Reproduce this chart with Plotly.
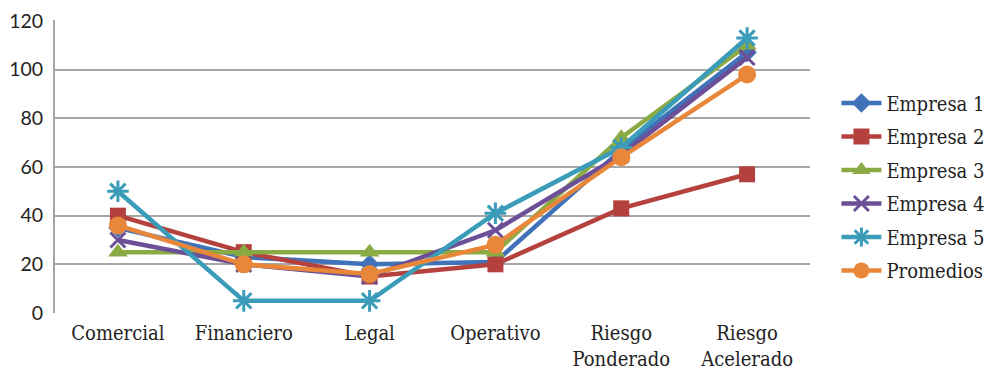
import plotly.graph_objects as go

categories = ["Comercial", "Financiero", "Legal", "Operativo", "Riesgo<br>Ponderado", "Riesgo<br>Acelerado"]
empresa1 = [35, 23, 20, 21, 67, 107]
empresa2 = [40, 25, 15, 20, 43, 57]
empresa3 = [25, 25, 25, 25, 72, 110]
empresa4 = [30, 20, 15, 34, 65, 105]
empresa5 = [50, 5, 5, 41, 68, 113]
promedios = [36, 20, 16, 28, 64, 98]
y_ticks = [0, 20, 40, 60, 80, 100, 120]

series = [
    ("Empresa 1", empresa1, "#3f72b8", "diamond", 15, 0),
    ("Empresa 2", empresa2, "#b5413e", "square", 16, 0),
    ("Empresa 3", empresa3, "#8aab44", "triangle-up", 17, 0),
    ("Empresa 4", empresa4, "#6c4f96", "x-thin", 15, 3),
    ("Empresa 5", empresa5, "#3a9cb8", "asterisk", 18, 3),
    ("Promedios", promedios, "#e8873a", "circle", 18, 0),
]

SERIF = "DejaVu Serif Condensed, DejaVu Serif"

fig = go.Figure()
for name, vals, color, sym, size, mlw in series:
    fig.add_trace(go.Scatter(
        x=categories, y=vals, name=name, mode="lines+markers",
        legendgroup=name,
        line=dict(color=color, width=4.5),
        marker=dict(symbol=sym, size=size, color=color,
                    line=dict(color=color, width=mlw)),
    ))

fig.update_layout(
    width=1000, height=375,
    margin=dict(l=47, r=198, t=12, b=70),
    plot_bgcolor="white", paper_bgcolor="white",
    showlegend=True,
    legend=dict(x=1.035, xanchor="left", y=0.43, yanchor="middle",
                font=dict(family=SERIF, size=20, color="#222"),
                itemwidth=40, tracegroupgap=4.5),
    xaxis=dict(type="category", showgrid=False, showline=False, ticks="",
               automargin=False, ticklabelstandoff=6,
               tickfont=dict(family=SERIF, size=20, color="#222"),
               range=[-0.5, 5.5]),
    yaxis=dict(range=[0, 120.4], tickvals=y_ticks, showgrid=True,
               automargin=False, ticklabeloverflow="allow",
               gridcolor="#a6a6a6", gridwidth=2, showline=True,
               linecolor="#a6a6a6", linewidth=2, zeroline=False,
               ticklabelstandoff=6,
               ticks="", tickfont=dict(family="Lato", size=19.5, color="#222")),
)
fig.write_html("out.html")
